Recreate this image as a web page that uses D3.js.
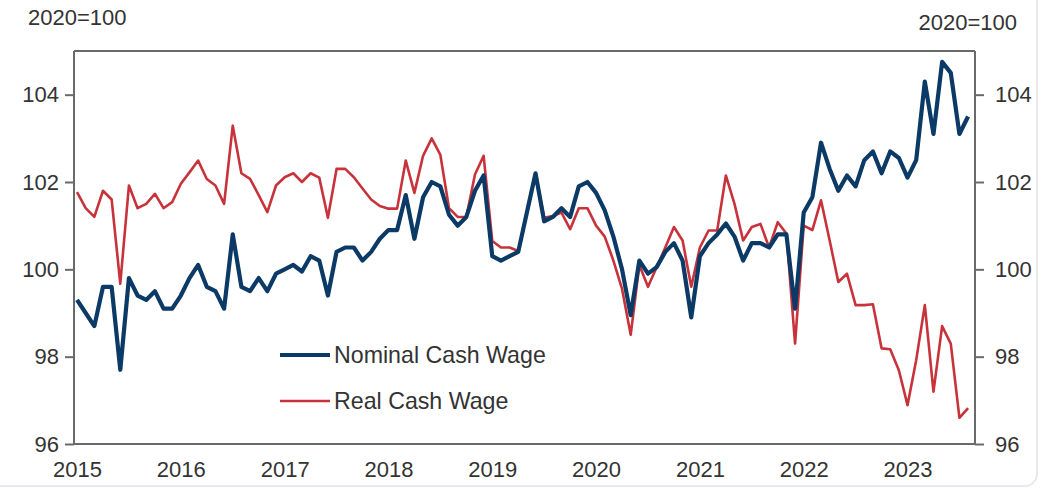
<!DOCTYPE html>
<html><head><meta charset="utf-8">
<script src="https://cdn.jsdelivr.net/npm/d3@7"></script>
<style>html,body{margin:0;padding:0;background:#fff;}svg{display:block;font-family:Arial,"Liberation Sans",sans-serif;}</style>
</head><body><svg id="c" width="1058" height="488"></svg>
<script>
const startYear = 2015, startMonth = 0;
const yearLabels = ["2015","2016","2017","2018","2019","2020","2021","2022","2023"];
const yTicks = [96, 98, 100, 102, 104];
const unitLabel = "2020=100";
const seriesNames = ["Nominal Cash Wage", "Real Cash Wage"];
const nominal = [
 99.3,99.0,98.7,99.6,99.6,97.7,99.8,99.4,99.3,99.5,99.1,99.1,
 99.4,99.8,100.1,99.6,99.5,99.1,100.8,99.6,99.5,99.8,99.5,99.9,
 100.0,100.1,99.95,100.3,100.2,99.4,100.4,100.5,100.5,100.2,100.4,100.7,
 100.9,100.9,101.7,100.7,101.65,102.0,101.9,101.25,101.0,101.2,101.8,102.15,
 100.3,100.2,100.3,100.4,101.3,102.2,101.1,101.2,101.4,101.2,101.9,102.0,
 101.75,101.35,100.75,100.0,98.95,100.2,99.9,100.05,100.4,100.6,100.2,98.9,
 100.3,100.6,100.8,101.05,100.75,100.2,100.6,100.6,100.5,100.8,100.8,99.1,
 101.3,101.65,102.9,102.3,101.8,102.15,101.9,102.5,102.7,102.2,102.7,102.55,
 102.1,102.5,104.3,103.1,104.75,104.5,103.1,103.5
];
const real = [
 101.77,101.4,101.2,101.8,101.6,99.67,101.92,101.4,101.5,101.73,101.4,101.54,
 101.96,102.22,102.49,102.07,101.92,101.5,103.29,102.2,102.07,101.7,101.31,101.92,
 102.11,102.2,102.0,102.2,102.1,101.18,102.3,102.3,102.11,101.85,101.6,101.45,
 101.39,101.39,102.49,101.75,102.6,103.0,102.62,101.4,101.2,101.2,102.17,102.6,
 100.65,100.5,100.5,100.42,101.3,102.2,101.18,101.22,101.3,100.92,101.4,101.4,
 101.0,100.75,100.2,99.55,98.5,100.1,99.6,100.05,100.5,100.97,100.66,99.6,
 100.5,100.89,100.89,102.15,101.5,100.66,100.97,101.04,100.5,101.08,100.82,98.3,
 101.0,100.9,101.58,100.66,99.71,99.9,99.18,99.18,99.2,98.19,98.17,97.69,
 96.89,97.92,99.18,97.2,98.7,98.3,96.6,96.82
];
const colors = ["#0b3a66", "#c8333b"];

const svg = d3.select("#c");
const L = 74, R = 975, T = 51, B = 444;
const x = d3.scaleLinear().domain([-0.35, nominal.length - 1 + 0.8]).range([L, R]);
const y = d3.scaleLinear().domain([96, 105]).range([B, T]);

// card border
svg.append("rect").attr("x", -12).attr("y", -12).attr("width", 1049).attr("height", 498)
  .attr("rx", 12).attr("fill", "none").attr("stroke", "#e2e4e8").attr("stroke-width", 1.5);

const axisColor = "#6a6a6a", textColor = "#333";
svg.append("line").attr("x1", L).attr("x2", R).attr("y1", T).attr("y2", T).attr("stroke", axisColor).attr("stroke-width", 2);
svg.append("line").attr("x1", L).attr("x2", R).attr("y1", B).attr("y2", B).attr("stroke", axisColor).attr("stroke-width", 2);

const yl = svg.append("g").attr("transform", `translate(${L},0)`)
  .call(d3.axisLeft(y).tickValues(yTicks).tickSize(9).tickPadding(6).tickFormat(d3.format("d")));
const yr = svg.append("g").attr("transform", `translate(${R},0)`)
  .call(d3.axisRight(y).tickValues(yTicks).tickSize(9).tickPadding(11).tickFormat(d3.format("d")));
[yl, yr].forEach(g => {
  g.select(".domain").attr("stroke", axisColor).attr("stroke-width", 2).attr("d", `M0,${T}V${B}`);
  g.selectAll(".tick line").attr("stroke", axisColor).attr("stroke-width", 2);
  g.selectAll(".tick text").attr("fill", textColor).attr("font-size", 22).attr("font-family", "Arial, 'Liberation Sans', sans-serif");
});

const xa = svg.append("g").attr("transform", `translate(0,${B})`)
  .call(d3.axisBottom(x).tickValues(yearLabels.map((d, i) => i * 12)).tickSize(0).tickPadding(17)
    .tickFormat((d, i) => yearLabels[i]));
xa.select(".domain").remove();
xa.selectAll(".tick text").attr("fill", textColor).attr("font-size", 22).attr("font-family", "Arial, 'Liberation Sans', sans-serif");

svg.append("text").attr("x", 28).attr("y", 25).attr("fill", textColor).attr("font-size", 22).text(unitLabel);
svg.append("text").attr("x", 1017).attr("y", 30).attr("text-anchor", "end").attr("fill", textColor).attr("font-size", 22).text(unitLabel);

const line = d3.line().x((d, i) => x(i)).y(d => y(d));
svg.append("path").datum(real).attr("d", line).attr("fill", "none")
  .attr("stroke", colors[1]).attr("stroke-width", 2.6).attr("stroke-linejoin", "round");
svg.append("path").datum(nominal).attr("d", line).attr("fill", "none")
  .attr("stroke", colors[0]).attr("stroke-width", 4.2).attr("stroke-linejoin", "round");

// legend
const leg = [{name: seriesNames[0], c: colors[0], w: 4.2, yy: 355}, {name: seriesNames[1], c: colors[1], w: 2.6, yy: 401}];
leg.forEach(d => {
  svg.append("line").attr("x1", 280).attr("x2", 330).attr("y1", d.yy).attr("y2", d.yy).attr("stroke", d.c).attr("stroke-width", d.w);
  svg.append("text").attr("x", 334).attr("y", d.yy).attr("dy", "0.36em").attr("fill", textColor).attr("font-size", 23.2).text(d.name);
});
</script></body></html>
